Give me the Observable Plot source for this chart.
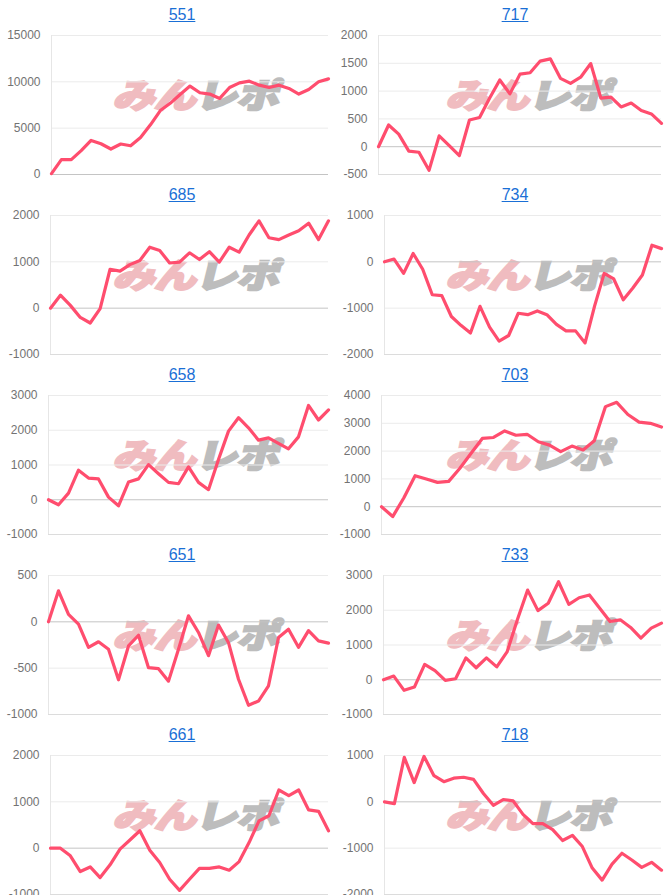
<!DOCTYPE html>
<html><head><meta charset="utf-8">
<script src="https://cdn.jsdelivr.net/npm/d3@7"></script>
<script src="https://cdn.jsdelivr.net/npm/@observablehq/plot@0.6"></script>
<style>
html,body{margin:0;padding:0;overflow:hidden;background:#fff;}
#grid{display:grid;grid-template-columns:333px 333px;width:666px;}
.panel{position:relative;width:333px;height:180px;overflow:hidden;}
.title{position:absolute;top:6px;left:132px;width:100px;text-align:center;font-family:"Liberation Sans",Arial,sans-serif;font-size:16px;line-height:18px;z-index:3;}
.title a{color:#1a6fd6;text-decoration:underline;}
.wm{position:absolute;left:116px;top:76px;font-family:"Noto Sans CJK JP",sans-serif;font-weight:900;font-size:34px;line-height:36px;transform:skewX(-14deg) scaleX(1.25);transform-origin:left center;white-space:nowrap;z-index:1;letter-spacing:-1px;}
.wm .a{color:#f0bcc0;-webkit-text-stroke:2px #f0bcc0;}
.wm .b{color:#bdbdbd;-webkit-text-stroke:2px #bdbdbd;}
.panel svg{position:absolute;top:25px;left:0;z-index:2;}
</style></head>
<body><div id="grid"></div>
<script>
const titles = ["551","717","685","734","658","703","651","733","661","718"];

const s551 = [100,1600,1600,2570,3680,3320,2750,3290,3100,4000,5360,6900,7680,8640,9540,8820,8680,8210,9390,9890,10070,9640,9390,9640,9290,8680,9180,10000,10320];
const s717 = [0,390,225,-80,-100,-425,195,20,-160,480,525,875,1200,950,1305,1330,1540,1580,1230,1140,1250,1495,875,890,715,785,650,590,420];
const s685 = [0,280,60,-200,-320,-10,840,800,940,1030,1315,1245,975,995,1195,1050,1220,995,1315,1210,1580,1885,1520,1480,1580,1670,1835,1480,1885];
const s734 = [0,60,-250,180,-160,-710,-730,-1180,-1370,-1535,-960,-1410,-1710,-1590,-1110,-1140,-1060,-1140,-1350,-1490,-1490,-1750,-950,-250,-370,-820,-565,-285,360,285];
const s658 = [0,-145,190,850,625,600,75,-175,510,600,1010,750,500,460,945,500,290,1155,1975,2360,2070,1715,1780,1620,1465,1810,2715,2295,2585];
const s703 = [0,-355,320,1115,995,875,910,1385,1920,2455,2490,2725,2570,2605,2335,2215,1980,2180,2040,2370,3600,3755,3315,3040,3000,2865];
const s651 = [0,335,80,-25,-275,-215,-295,-625,-260,-145,-495,-505,-640,-295,65,-115,-365,-35,-225,-620,-900,-855,-690,-170,-80,-275,-95,-205,-230];
const s733 = [0,105,-305,-210,440,265,-20,30,630,345,630,370,800,1725,2580,1990,2200,2820,2170,2360,2440,2060,1675,1725,1505,1200,1485,1630];
const s661 = [0,0,-165,-505,-405,-635,-360,-20,175,375,-45,-310,-670,-910,-670,-435,-435,-405,-475,-290,120,590,700,1255,1135,1255,825,795,375];
const s718 = [0,-40,960,415,980,565,435,510,530,485,180,-75,50,20,-270,-470,-470,-600,-835,-725,-965,-1430,-1690,-1345,-1110,-1255,-1415,-1305,-1475];

const t551 = [0,5000,10000,15000];
const t717 = [-500,0,500,1000,1500,2000];
const t685 = [-1000,0,1000,2000];
const t734 = [-2000,-1000,0,1000];
const t658 = [-1000,0,1000,2000,3000];
const t703 = [-1000,0,1000,2000,3000,4000];
const t651 = [-1000,-500,0,500];
const t733 = [-1000,0,1000,2000,3000];
const t661 = [-1000,0,1000,2000];
const t718 = [-2000,-1000,0,1000];

const series = [s551,s717,s685,s734,s658,s703,s651,s733,s661,s718];
const tickSets = [t551,t717,t685,t734,t658,t703,t651,t733,t661,t718];
const lefts = [51,45,50,51,48,48,48,50,50,51];

const grid = document.getElementById("grid");
titles.forEach((title, k) => {
  const data = series[k];
  const ticks = tickSets[k];
  const n = data.length;
  const rows = data.map((v, i) => ({i, v}));
  const dom = [d3.min(ticks), d3.max(ticks)];
  const panel = document.createElement("div");
  panel.className = "panel";
  const t = document.createElement("div");
  t.className = "title";
  t.innerHTML = `<a href="#">${title}</a>`;
  panel.appendChild(t);
  const wm = document.createElement("div");
  wm.className = "wm";
  wm.innerHTML = `<span class="a">みん</span><span class="b">レポ</span>`;
  panel.appendChild(wm);
  const chart = Plot.plot({
    width: 333, height: 155,
    marginTop: 10, marginBottom: 6, marginLeft: lefts[k], marginRight: 5,
    style: {background: "transparent", fontFamily: "'Liberation Sans', Arial, sans-serif", fontSize: "12px", color: "#737373", overflow: "visible"},
    x: {domain: [0, n - 1], axis: null},
    y: {domain: dom, ticks: ticks, tickFormat: d => String(d), tickSize: 0, tickPadding: 11, label: null},
    marks: [
      Plot.ruleY(ticks.filter(v => v !== 0 && v !== dom[0]), {stroke: "#ebebeb"}),
      Plot.ruleY(ticks.filter(v => v !== 0 && v === dom[0]), {stroke: "#dcdcdc"}),
      Plot.ruleX([0], {stroke: "#e6e6e6"}),
      Plot.ruleY([0], {stroke: "#c4c4c4"}),
      Plot.line(rows, {x: "i", y: "v", stroke: "#ff4d6e", strokeWidth: 3.2, strokeLinejoin: "round", strokeLinecap: "round"})
    ]
  });
  panel.appendChild(chart);
  grid.appendChild(panel);
});
</script>
</body></html>
